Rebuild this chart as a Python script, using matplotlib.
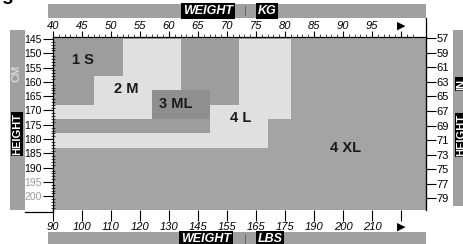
import matplotlib
matplotlib.use("Agg")
import matplotlib.pyplot as plt
from matplotlib.patches import Rectangle
from matplotlib.lines import Line2D
import numpy as np

plt.rcParams['font.family'] = ['Liberation Sans Narrow', 'Liberation Sans', 'DejaVu Sans']

# size zones as (kg_from, kg_to, cm_from, cm_to) blocks
size_names = ["1 S", "2 M", "3 ML", "4 L", "4 XL"]
zone_s = [(40, 52, 145, 158), (40, 47, 158, 168)]
zone_m = [(52, 62, 145, 163), (47, 57, 158, 173), (40, 47, 168, 173)]
zone_ml = [(62, 72, 145, 168), (57, 67, 163, 173), (40, 67, 173, 178)]
zone_ml_box = [(57, 67, 163, 173)]
zone_l = [(72, 81, 145, 168), (67, 81, 168, 173), (67, 77, 173, 178), (40, 77, 178, 183)]
label_kg = [45.2, 52.6, 61.2, 72.4, 90.5]
label_cm = [152.3, 162.5, 167.7, 172.6, 183.1]

kg_ticks = [40, 45, 50, 55, 60, 65, 70, 75, 80, 85, 90, 95, 100]
kg_labels = ["40", "45", "50", "55", "60", "65", "70", "75", "80", "85", "90", "95", "\u25B6"]
lbs_labels = ["90", "100", "110", "120", "130", "145", "155", "165", "175", "190", "200", "210", "\u25B6"]
cm_ticks = [145, 150, 155, 160, 165, 170, 175, 180, 185, 190, 195, 200]
in_ticks = [57, 59, 61, 63, 65, 67, 69, 71, 73, 75, 77, 79]

c_light = "#e0e0e0"
c_mid = "#9d9d9d"
c_box = "#8f8f8f"
c_xl = "#a4a4a4"
c_bar = "#a0a0a0"

W, H = 463, 244


def fx(px):
    return px / W


def fy(py):
    return 1 - py / H


fig = plt.figure(figsize=(4.63, 2.44), dpi=100)
fig.patch.set_facecolor("white")

# grey header / footer / side bars
for (x0, y0, x1, y1) in [(48, 4, 426, 18), (48, 232, 426, 246), (10, 30, 25, 210), (453, 30, 470, 206)]:
    fig.add_artist(Rectangle((fx(x0), fy(y1)), fx(x1) - fx(x0), fy(y0) - fy(y1),
                             transform=fig.transFigure, color=c_bar, lw=0))

ax = fig.add_axes([fx(53), fy(210), fx(426) - fx(53), fy(37) - fy(210)])
ax.set_xlim(40, 104.3)
ax.set_ylim(204.8, 144.3)
ax.set_facecolor(c_xl)

for zone, col in [(zone_s, c_mid), (zone_m, c_light), (zone_ml, c_mid),
                  (zone_ml_box, c_box), (zone_l, c_light)]:
    for (k0, k1, h0, h1) in zone:
        ax.add_patch(Rectangle((k0, h0), k1 - k0, h1 - h0, color=col, lw=0))

for name, k, h in zip(size_names, label_kg, label_cm):
    ax.text(k, h, name, ha="center", va="center", fontsize=10.5, fontweight="bold",
            family=["Liberation Sans", "DejaVu Sans"], color="#1a1a1a")

# top: kilograms
ax.xaxis.set_ticks_position("top")
ax.set_xticks(kg_ticks)
ax.set_xticklabels(kg_labels, fontsize=8, fontstyle="italic")
ax.set_xticks(np.arange(40, 103, 1), minor=True)
ax.tick_params(axis="x", which="major", direction="out", length=4, width=0.8, pad=0.5)
ax.tick_params(axis="x", which="minor", direction="out", length=2, width=0.5)
ax.get_xticklabels()[-1].set_fontstyle("normal")

# bottom: pounds
secx = ax.secondary_xaxis("bottom")
secx.set_xticks(kg_ticks)
secx.set_xticklabels(lbs_labels, fontsize=8, fontstyle="italic")
secx.tick_params(axis="x", direction="out", length=8, width=0.8, pad=0.5)
secx.spines["bottom"].set_visible(False)
secx.get_xticklabels()[-1].set_fontstyle("normal")

# left: centimetres
ax.set_yticks(cm_ticks)
ax.set_yticklabels([str(v) for v in cm_ticks], fontsize=7.5)
ax.set_yticks(np.arange(145, 205, 1), minor=True)
ax.tick_params(axis="y", which="major", direction="out", length=7.5, width=0.8, pad=0.5)
ax.tick_params(axis="y", which="minor", direction="inout", length=3, width=0.5)
for lab in ax.get_yticklabels()[-2:]:
    lab.set_color("#9a9a9a")

# right: inches
secy = ax.secondary_yaxis("right", functions=(lambda c: c / 2.54, lambda i: i * 2.54))
secy.set_yticks(in_ticks)
secy.set_yticklabels([str(v) for v in in_ticks], fontsize=8)
secy.tick_params(axis="y", direction="out", length=7, width=0.8, pad=0.5)

ax.spines["bottom"].set_visible(False)
for s in ["top", "left", "right"]:
    ax.spines[s].set_linewidth(0.9)

# ruler corner lines
fig.add_artist(Line2D([fx(25), fx(53), fx(53)], [fy(212), fy(212), fy(210)],
                      transform=fig.transFigure, color="black", lw=0.9))
fig.add_artist(Line2D([fx(426), fx(426)], [fy(18), fy(37)],
                      transform=fig.transFigure, color="black", lw=0.9))

# bar captions
box = dict(facecolor="black", edgecolor="none", pad=1.2)
cap = dict(color="white", fontsize=9, fontweight="bold", fontstyle="italic",
           ha="center", va="center", family=["Liberation Sans", "DejaVu Sans"], bbox=box)
fig.text(fx(208), fy(11), "WEIGHT", **cap)
fig.text(fx(267), fy(11), "KG", **cap)
fig.text(fx(245), fy(11), "|", color="#606060", fontsize=8, ha="center", va="center")
fig.text(fx(206), fy(238.5), "WEIGHT", **cap)
fig.text(fx(270), fy(238.5), "LBS", **cap)
fig.text(fx(245), fy(238.5), "|", color="#606060", fontsize=8, ha="center", va="center")
side = dict(color="white", fontsize=8, fontweight="bold", rotation=90, ha="center", va="center",
            family=["Liberation Sans", "DejaVu Sans"])
fig.text(fx(17), fy(73), "CM", **{**side, "color": "#d8d8d8"})
fig.text(fx(17), fy(134), "HEIGHT", bbox=dict(facecolor="black", edgecolor="none", pad=1.0), **side)
fig.text(fx(461), fy(135), "HEIGHT", bbox=dict(facecolor="black", edgecolor="none", pad=1.0), **side)
fig.text(fx(461), fy(84), "IN", bbox=dict(facecolor="black", edgecolor="none", pad=1.0), **side)
fig.text(fx(1), fy(0.5), "g", color="black", fontsize=14, fontweight="bold", ha="left", va="baseline")

fig.savefig("out.png", dpi=100)
